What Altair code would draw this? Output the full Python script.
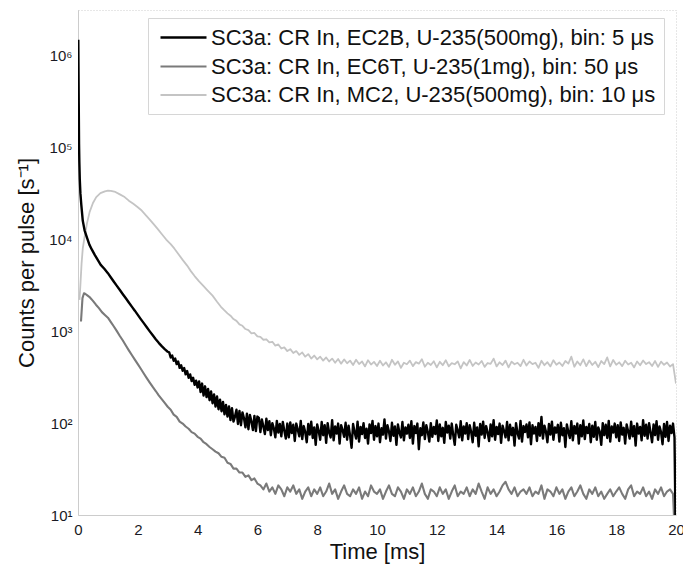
import altair as alt
import pandas as pd

labels = [
    "SC3a: CR In, EC2B, U-235(500mg), bin: 5 μs",
    "SC3a: CR In, EC6T, U-235(1mg), bin: 50 μs",
    "SC3a: CR In, MC2, U-235(500mg), bin: 10 μs",
]
colors = ["#000000", "#7a7a7a", "#c4c4c4"]
widths = [2.4, 1.8, 1.8]

x_ticks = [0, 2, 4, 6, 8, 10, 12, 14, 16, 18, 20]
y_ticks = [10, 100, 1000, 10000, 100000, 1000000]

# ---- EC2B (black) ----
ec2b_t_early = [0.01, 0.025, 0.035, 0.045, 0.06, 0.08, 0.11, 0.16, 0.22, 0.30, 0.38,
                0.46, 0.56, 0.66, 0.76, 0.88, 1.0]
ec2b_v_early = [1500000, 300000, 110000, 70000, 45000, 32000, 24000, 16000, 12600, 10500, 8800,
                7800, 6800, 6000, 5300, 4800, 4300]
# read every 0.1 ms from 1.1 to 3.0 ms
ec2b_grid1_start, ec2b_grid1_step = 1.1, 0.1
ec2b_v_grid1 = [
    3860, 3470, 3130, 2820, 2540, 2290, 2060, 1860, 1680, 1510,
    1360, 1230, 1110, 1000, 905, 820, 750, 690, 640, 600,
]
# read every 0.05 ms from 3.05 to 19.95 ms
ec2b_grid2_start, ec2b_grid2_step = 3.05, 0.05
ec2b_v_grid2 = [
    590, 520, 545, 478, 505, 440, 470, 400, 428, 372, 398, 340, 370, 312, 340, 288, 312, 262, 290, 245,
    285, 218, 270, 200, 252, 192, 236, 178, 222, 165, 206, 152, 195, 142, 180, 135, 170, 125, 158, 118,
    152, 108, 146, 104, 118, 140, 98, 136, 95, 131, 114, 90, 127, 86, 123, 104, 84, 120, 82, 118,
    114, 80, 110, 92, 76, 112, 84, 105, 74, 100, 88, 70, 106, 79, 98, 72, 103, 83, 68, 99,
    70, 102, 78, 96, 64, 99, 85, 72, 106, 67, 93, 80, 62, 98, 75, 104, 69, 90, 58, 97,
    82, 66, 103, 74, 95, 61, 100, 79, 70, 108, 65, 92, 77, 99, 60, 95, 84, 71, 101, 66,
    94, 73, 54, 98, 80, 68, 104, 63, 91, 76, 100, 69, 87, 60, 97, 78, 106, 66, 93, 72,
    99, 62, 88, 75, 110, 68, 95, 81, 64, 101, 73, 92, 58, 97, 79, 70, 103, 65, 90, 77,
    96, 69, 105, 60, 93, 78, 99, 52, 88, 74, 102, 67, 95, 80, 63, 100, 71, 91, 76, 107,
    64, 97, 72, 89, 61, 103, 79, 94, 68, 99, 74, 58, 96, 83, 70, 105, 65, 92, 77, 100,
    67, 95, 80, 62, 101, 73, 90, 56, 98, 75, 104, 69, 93, 79, 64, 97, 72, 108, 66, 91,
    76, 99, 61, 94, 82, 70, 103, 65, 96, 74, 89, 57, 100, 78, 68, 106, 63, 93, 80, 97,
    70, 102, 59, 95, 77, 91, 64, 100, 73, 117, 68, 94, 81, 62, 98, 75, 104, 66, 90, 79,
    96, 63, 101, 74, 88, 55, 97, 80, 69, 105, 65, 93, 77, 99, 60, 95, 72, 107, 67, 91,
    78, 98, 62, 94, 71, 103, 66, 90, 81, 58, 100, 74, 96, 69, 106, 63, 92, 79, 99, 70,
    95, 64, 102, 75, 89, 60, 97, 81, 68, 104, 72, 93, 57, 99, 77, 91, 65, 108, 73, 96,
    68, 100, 79, 62, 97, 74, 105, 66, 92, 80, 59, 98, 71, 103, 64, 94, 78, 99, 70,
]
ec2b_t_end = [20.0]
ec2b_v_end = [3]

# ---- EC6T (mid grey) ----
ec6t_t_early = [0.10, 0.15, 0.20, 0.25, 0.30, 0.40, 0.50, 0.60, 0.70, 0.80, 0.90, 1.0]
ec6t_v_early = [1280, 2300, 2600, 2550, 2480, 2340, 2150, 1950, 1790, 1620, 1510, 1410]
ec6t_grid_start, ec6t_grid_step = 1.1, 0.1
ec6t_v_grid = [
    1260, 1130, 1005, 890, 795, 700, 620, 552, 492, 440,
    392, 348, 310, 277, 248, 224, 201, 183, 166, 151,
    140, 124, 117, 104, 99, 92, 87, 80, 77, 71,
    68, 62, 59, 55, 52, 49, 47, 43, 42, 37,
    36, 32, 32, 29, 29, 26, 27, 24, 25, 22,
    21, 19, 22, 18, 20, 17, 21, 19, 16, 20,
    18, 21, 17, 19, 15, 18, 20, 16, 19, 17,
    20, 16, 18, 22, 17, 19, 15, 18, 21, 17,
    16, 19, 17, 20, 15, 18, 16, 21, 18, 17,
    19, 15, 18, 21, 17, 16, 20, 18, 15, 19,
    17, 20, 16, 18, 22, 17, 15, 19, 18, 16,
    20, 17, 19, 15, 18, 21, 16, 18, 17, 20,
    16, 19, 17, 22, 18, 15, 20, 17, 19, 16,
    18, 21, 23, 19, 17, 20, 16, 18, 19, 17,
    20, 16, 18, 17, 21, 15, 19, 18, 16, 20,
    17, 19, 15, 18, 20, 16, 18, 21, 17, 15,
    19, 17, 20, 16, 18, 15, 17, 19, 16, 18,
    20, 17, 15, 19, 21, 16, 18, 17, 20, 16,
    18, 15, 19, 17, 20, 16, 18, 19, 17,
]
ec6t_t_end = [20.0]
ec6t_v_end = [3]

# ---- MC2 (light grey) ----
mc2_t_early = [0.05, 0.08, 0.12, 0.16, 0.22, 0.30, 0.39, 0.50, 0.61, 0.75,
               0.90, 1.0, 1.1, 1.25, 1.4, 1.56, 1.7, 1.85, 2.0, 2.11,
               2.25, 2.4, 2.53, 2.67, 2.8, 2.95, 3.1, 3.22, 3.35, 3.5,
               3.65, 3.78, 3.9, 4.05, 4.2, 4.33, 4.5, 4.65, 4.78, 4.89, 5.0]
mc2_v_early = [2200, 3200, 5500, 8000, 10700, 15000, 20000, 25000, 29000, 32000,
               33500, 34000, 33800, 33000, 31000, 29000, 26500, 24500, 22500, 21000,
               18700, 16500, 14700, 13000, 11500, 10000, 8900, 8000, 7000, 6000,
               5200, 4500, 4000, 3500, 3100, 2800, 2450, 2100, 1850, 1700, 1570]
mc2_grid_start, mc2_grid_step = 5.1, 0.1
mc2_v_grid = [
    1480, 1360, 1300, 1190, 1150, 1060, 1030, 950, 960, 880,
    870, 810, 820, 760, 770, 700, 720, 650, 670, 610,
    640, 580, 610, 555, 590, 530, 565, 505, 545, 495,
    530, 480, 520, 470, 505, 455, 500, 445, 495, 450,
    480, 430, 490, 440, 470, 415, 485, 435, 465, 420,
    478, 425, 460, 410, 490, 432, 470, 400, 455, 438,
    480, 418, 462, 445, 498, 412, 455, 430, 472, 405,
    466, 428, 485, 415, 450, 438, 470, 395, 462, 425,
    488, 420, 458, 435, 476, 410, 452, 442, 505, 415,
    460, 430, 480, 405, 468, 438, 455, 418, 490, 425,
    470, 440, 455, 400, 478, 428, 462, 415, 485, 432,
    458, 420, 475, 445, 530, 412, 470, 428, 495, 418,
    482, 430, 466, 408, 475, 440, 520, 415, 488, 432,
    460, 418, 478, 436, 455, 405, 470, 428, 482, 440,
    462, 420, 475, 410, 468, 432, 458, 415, 440,
]
mc2_t_end = [20.0]
mc2_v_end = [270]


def grid_times(start, step, values):
    return [round(start + step * i, 3) for i in range(len(values))]


def frame(label, parts):
    t, v = [], []
    for tt, vv in parts:
        t += list(tt)
        v += list(vv)
    return pd.DataFrame({"t": t, "v": v, "series": label})


df = pd.concat([
    frame(labels[0], [
        (ec2b_t_early, ec2b_v_early),
        (grid_times(ec2b_grid1_start, ec2b_grid1_step, ec2b_v_grid1), ec2b_v_grid1),
        (grid_times(ec2b_grid2_start, ec2b_grid2_step, ec2b_v_grid2), ec2b_v_grid2),
        (ec2b_t_end, ec2b_v_end),
    ]),
    frame(labels[1], [
        (ec6t_t_early, ec6t_v_early),
        (grid_times(ec6t_grid_start, ec6t_grid_step, ec6t_v_grid), ec6t_v_grid),
        (ec6t_t_end, ec6t_v_end),
    ]),
    frame(labels[2], [
        (mc2_t_early, mc2_v_early),
        (grid_times(mc2_grid_start, mc2_grid_step, mc2_v_grid), mc2_v_grid),
        (mc2_t_end, mc2_v_end),
    ]),
], ignore_index=True)

FONT = "Liberation Sans"

legend = alt.Legend(
    title=None,
    orient="none",
    legendX=70,
    legendY=8,
    symbolType="M-2.3,0L2.3,0",
    symbolSize=400,
    symbolOffset=16,
    labelFontSize=22,
    labelFont=FONT,
    labelColor="#111111",
    labelLimit=0,
    labelOffset=16,
    rowPadding=6,
    padding=8,
    strokeColor="#d6d6d6",
    fillColor="#ffffff",
)

y_label_expr = (
    "datum.value == 10 ? '10¹' : datum.value == 100 ? '10²' : "
    "datum.value == 1000 ? '10³' : datum.value == 10000 ? '10⁴' : "
    "datum.value == 100000 ? '10⁵' : '10⁶'"
)

base = alt.Chart(df).mark_line(clip=True, strokeJoin="round").encode(
    x=alt.X(
        "t:Q",
        scale=alt.Scale(domain=[0, 20], nice=False, zero=False),
        axis=alt.Axis(values=x_ticks, title="Time [ms]", format="d", labelFlush=False),
    ),
    y=alt.Y(
        "v:Q",
        scale=alt.Scale(type="log", domain=[10, 3160000], nice=False),
        axis=alt.Axis(values=y_ticks, labelExpr=y_label_expr, labelFlush=False,
                      title="Counts per pulse [s⁻¹]"),
    ),
    color=alt.Color("series:N", scale=alt.Scale(domain=labels, range=colors), legend=legend),
    strokeWidth=alt.StrokeWidth("series:N", scale=alt.Scale(domain=labels, range=widths), legend=legend),
    order=alt.Order("t:Q"),
)

layers = [base.transform_filter(alt.datum.series == labels[i]) for i in (2, 1, 0)]

chart = alt.layer(*layers).properties(
    width=598,
    height=505,
    autosize=alt.AutoSizeParams(type="none"),
    padding={"left": 78, "top": 10, "right": 7, "bottom": 50},
).configure_view(
    stroke="#cfcfcf",
    strokeDash=[1, 2],
    strokeWidth=1,
).configure_axis(
    grid=False,
    ticks=False,
    domainColor="#cccccc",
    domainWidth=1,
    labelFont=FONT,
    labelFontSize=15,
    labelColor="#1a1a24",
    titleFont=FONT,
    titleFontSize=22,
    titleFontWeight="normal",
    titleColor="#111111",
).configure_axisX(
    labelPadding=7,
    titlePadding=4,
).configure_axisY(
    labelPadding=6,
    titlePadding=10,
)

chart.save("out.html", embed_options={"renderer": "svg", "actions": False})
